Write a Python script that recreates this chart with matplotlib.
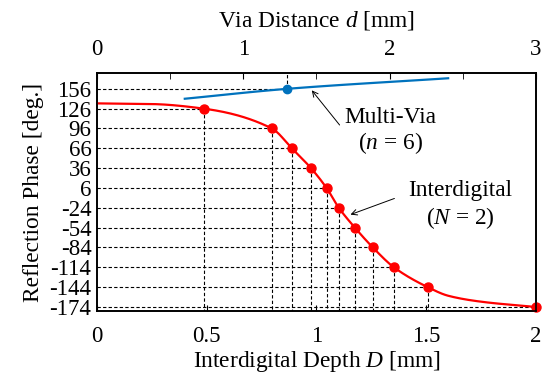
import numpy as np
import matplotlib
matplotlib.use("Agg")
import matplotlib.pyplot as plt

plt.rcParams['font.family'] = ['Liberation Serif', 'DejaVu Serif']
plt.rcParams['mathtext.fontset'] = 'custom'
plt.rcParams['mathtext.rm'] = 'Liberation Serif'
plt.rcParams['mathtext.it'] = 'Liberation Serif:italic'

# Interdigital (N = 2): marked points
inter_D = [0.487, 0.797, 0.888, 0.975, 1.046, 1.102, 1.175, 1.257, 1.353, 1.507, 2.0]
inter_phase = [126, 96, 66, 36, 6, -24, -54, -84, -114, -144, -174]
# Interdigital curve knots
curve_D = [0.0, 0.25, 0.487, 0.797, 0.888, 0.975, 1.046, 1.102, 1.175, 1.257, 1.353, 1.507, 1.6, 1.75, 2.0]
curve_phase = [134, 133, 126, 96, 66, 36, 6, -24, -54, -84, -114, -144, -157, -166, -174]

# Multi-Via (n = 6)
via_d = [0.6, 1.3, 2.4]
via_phase = [141, 156, 172]
via_mark_d = [1.3]
via_mark_phase = [156]

yticks = [156, 126, 96, 66, 36, 6, -24, -54, -84, -114, -144, -174]
bottom_ticks = [0, 0.5, 1, 1.5, 2]
bottom_labels = ['0', '0.5', '1', '1.5', '2']
top_ticks = [0, 1, 2, 3]


def pchip(x, y, xn):
    x = np.asarray(x, float); y = np.asarray(y, float)
    h = np.diff(x); delta = np.diff(y) / h
    n = len(x)
    d = np.zeros(n)
    for k in range(1, n - 1):
        if delta[k - 1] * delta[k] <= 0:
            d[k] = 0
        else:
            w1 = 2 * h[k] + h[k - 1]; w2 = h[k] + 2 * h[k - 1]
            d[k] = (w1 + w2) / (w1 / delta[k - 1] + w2 / delta[k])
    d[0] = delta[0]; d[-1] = delta[-1]
    out = np.empty_like(xn)
    for i, xv in enumerate(xn):
        k = min(max(np.searchsorted(x, xv) - 1, 0), n - 2)
        t = (xv - x[k]) / h[k]
        h00 = 2 * t**3 - 3 * t**2 + 1; h10 = t**3 - 2 * t**2 + t
        h01 = -2 * t**3 + 3 * t**2; h11 = t**3 - t**2
        out[i] = h00 * y[k] + h10 * h[k] * d[k] + h01 * y[k + 1] + h11 * h[k] * d[k + 1]
    return out


fs = 16.5
fl = 16.8
fig = plt.figure(figsize=(5.48, 3.82), dpi=100)
ax = fig.add_axes([0.177, 0.186, 0.801, 0.623])
ax.set_xlim(0, 2)
ax.set_ylim(-180, 180)

dash = dict(color='black', lw=0.8, ls=(0, (3, 2)), zorder=1)
for D, p in zip(inter_D, inter_phase):
    ax.plot([0, D], [p, p], **dash)
    ax.plot([D, D], [p, -180], **dash)

xs = np.linspace(0, 2, 300)
ax.plot(xs, pchip(curve_D, curve_phase, xs), color='red', lw=1.6, zorder=3)
ax.plot(inter_D, inter_phase, 'o', color='red', ms=6.5, zorder=4, clip_on=False)

ax2 = ax.twiny()
ax2.set_xlim(0, 3)
ax2.set_ylim(-180, 180)
for d, p in zip(via_mark_d, via_mark_phase):
    ax2.plot([0, d], [p, p], **dash)
    ax2.plot([d, d], [p, 180], **dash)
xv = np.linspace(via_d[0], via_d[-1], 100)
ax2.plot(xv, pchip(via_d, via_phase, xv), color='#0072BD', lw=1.6, zorder=3)
ax2.plot(via_mark_d, via_mark_phase, 'o', color='#0072BD', ms=6, zorder=4)

ax.set_yticks(yticks)
ax.set_yticklabels([str(v) for v in yticks], fontsize=fs)
ax.tick_params(axis='y', length=0, pad=4)
ax.set_xticks(bottom_ticks)
ax.set_xticklabels(bottom_labels, fontsize=fs)
ax.tick_params(axis='x', direction='in', length=4, pad=11, top=False)
ax2.set_xticks(top_ticks)
ax2.set_xticks([0.5, 1.5, 2.5], minor=True)
ax2.set_xticklabels([str(v) for v in top_ticks], fontsize=fs)
ax2.tick_params(axis='x', which='both', direction='in', length=4, pad=9)

ax.set_xlabel('Interdigital Depth $D$ [mm]', fontsize=fl, labelpad=1)
ax2.set_xlabel('Via Distance $d$ [mm]', fontsize=fl, labelpad=9)
ax.set_ylabel('Reflection Phase [deg.]', fontsize=fl, labelpad=4)

for a in (ax, ax2):
    for s in a.spines.values():
        s.set_linewidth(1.2)

ax2.annotate('', xy=(1.456, 157), xytext=(1.67, 98),
             arrowprops=dict(arrowstyle='->', lw=0.7, color='black'))
ax.text(1.335, 112, 'Multi-Via', fontsize=fl, ha='center', va='center')
ax.text(1.335, 74, '($n$ = 6)', fontsize=fl, ha='center', va='center')

ax.annotate('', xy=(1.143, -35.7), xytext=(1.367, -8.4),
            arrowprops=dict(arrowstyle='->', lw=0.7, color='black'))
ax.text(1.655, 2, 'Interdigital', fontsize=fl, ha='center', va='center')
ax.text(1.655, -40, '($N$ = 2)', fontsize=fl, ha='center', va='center')

fig.savefig('out.png', dpi=100)
